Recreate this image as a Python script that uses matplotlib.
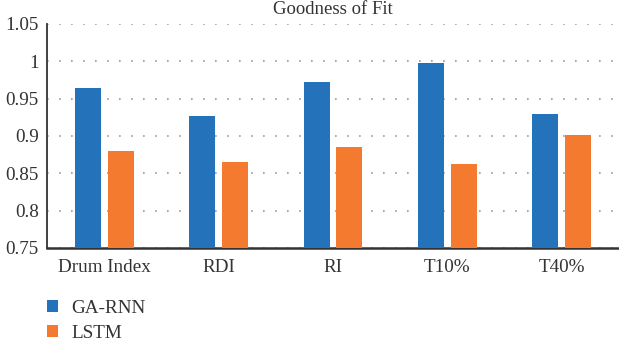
import matplotlib
matplotlib.use("Agg")
import matplotlib.pyplot as plt
import numpy as np
from matplotlib.patches import Patch

categories = ["Drum Index", "RDI", "RI", "T10%", "T40%"]
ga_rnn = [0.964, 0.927, 0.972, 0.998, 0.929]
lstm = [0.880, 0.865, 0.885, 0.862, 0.901]
y_ticks = [0.75, 0.8, 0.85, 0.9, 0.95, 1.0, 1.05]
y_tick_labels = ["0.75", "0.8", "0.85", "0.9", "0.95", "1", "1.05"]

blue = "#2372BA"
orange = "#F47A30"
text_color = "#333333"
fs = 13.8

plt.rcParams["font.family"] = ["Liberation Serif", "DejaVu Serif"]

fig = plt.figure(figsize=(6.19, 3.47), dpi=100)
ax = fig.add_axes([47 / 619, 1 - 248 / 347, 1 - 47 / 619, (248 - 24) / 347])

x = np.arange(len(categories))
w = 0.227
off = 0.144
ax.bar(x - off, ga_rnn, width=w, color=blue, zorder=3)
ax.bar(x + off, lstm, width=w, color=orange, zorder=3)

ax.set_xlim(-0.5, len(categories) - 0.5)
ax.set_ylim(0.75, 1.05)
ax.set_yticks(y_ticks)
ax.set_yticklabels(y_tick_labels)
ax.set_xticks(x)
ax.set_xticklabels(categories)
ax.tick_params(axis="both", length=0, labelsize=fs, colors=text_color)
ax.tick_params(axis="x", pad=8)
ax.tick_params(axis="y", pad=6)

ax.yaxis.grid(True, linestyle=(0, (1, 6.2)), color="#999999", linewidth=1.2, zorder=0)
ax.set_axisbelow(True)

for s in ["top", "right"]:
    ax.spines[s].set_visible(False)
ax.spines["left"].set_color("#333333")
ax.spines["left"].set_linewidth(1.3)
ax.spines["bottom"].set_color("#333333")
ax.spines["bottom"].set_linewidth(1.8)

fig.text(333 / 619, 1 - 10 / 347, "Goodness of Fit", ha="center", va="center",
         fontsize=13.5, color=text_color)

handles = [Patch(facecolor=blue), Patch(facecolor=orange)]
fig.legend(handles, ["GA-RNN", "LSTM"], loc="upper left",
           bbox_to_anchor=(47 / 619, 1 - 300 / 347), frameon=False,
           borderpad=0, borderaxespad=0,
           fontsize=fs, labelcolor=text_color, handlelength=0.58, handleheight=0.58,
           handletextpad=0.68, labelspacing=0.42)

fig.savefig("out.png", dpi=100)
